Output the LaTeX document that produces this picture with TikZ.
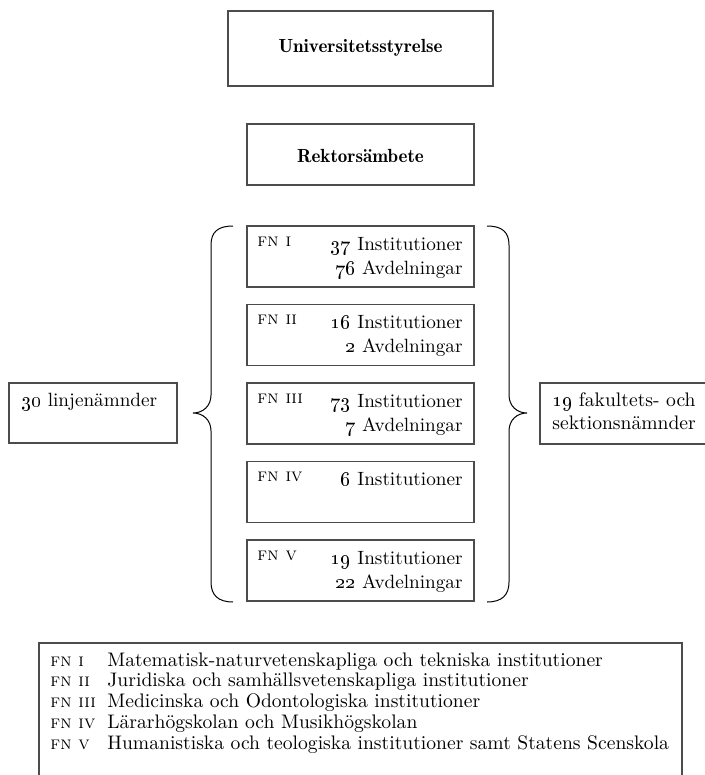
\documentclass[tikz,border=0pt]{standalone}
\definecolor{boxgray}{gray}{0.3}
\tikzset{
  box/.style={draw=boxgray, line width=0.6pt, inner sep=0pt, rectangle},
  fnbox/.style={box, minimum width=113.5pt, minimum height=30.5pt},
  txt/.style={inner sep=0pt, font=\fontsize{9.6}{12}\selectfont},
  legtxt/.style={inner sep=0pt, font=\fontsize{9.8}{12}\selectfont},
  bold/.style={inner sep=0pt, font=\fontsize{9.5}{12}\fontseries{b}\selectfont},
  fnl/.style={inner sep=0pt, font=\fontsize{9.2}{10}\selectfont\scshape},
  bracepath/.style={draw=black, line width=0.5pt}
}
\newcommand{\os}[1]{\oldstylenums{#1}}
\begin{document}
\begin{tikzpicture}[x=0.5pt,y=-0.5pt]
\useasboundingbox (0,0) rectangle (705,775);
\clip (0,0) rectangle (705,775);

% top boxes
\node[box, minimum width=132.5pt, minimum height=37.5pt] (uni) at (360.5,48.5) {};
\node[bold, anchor=base] (unit) at (360.5,53) {Universitetsstyrelse};
\node[box, minimum width=113.5pt, minimum height=30.5pt] (rek) at (360.5,154.5) {};
\node[bold, anchor=base] (rekt) at (360.5,163) {Rektorsämbete};

% FN boxes
\node[fnbox] (fn1) at (360.5,256.5) {};
\node[fnl, anchor=base west] (fn1l) at (257,246) {fn i};
\node[txt, anchor=base east] (fn1a) at (463,250) {\os{37} Institutioner};
\node[txt, anchor=base east] (fn1b) at (463,274) {\os{76} Avdelningar};

\node[fnbox] (fn2) at (360.5,335) {};
\node[fnl, anchor=base west] (fn2l) at (257,324.5) {fn ii};
\node[txt, anchor=base east] (fn2a) at (463,328.5) {\os{16} Institutioner};
\node[txt, anchor=base east] (fn2b) at (463,352.5) {\os{2} Avdelningar};

\node[fnbox] (fn3) at (360.5,413.5) {};
\node[fnl, anchor=base west] (fn3l) at (257,403) {fn iii};
\node[txt, anchor=base east] (fn3a) at (463,407) {\os{73} Institutioner};
\node[txt, anchor=base east] (fn3b) at (463,431) {\os{7} Avdelningar};

\node[fnbox] (fn4) at (360.5,492) {};
\node[fnl, anchor=base west] (fn4l) at (257,481.5) {fn iv};
\node[txt, anchor=base east] (fn4a) at (463,485.5) {\os{6} Institutioner};

\node[fnbox] (fn5) at (360.5,570.5) {};
\node[fnl, anchor=base west] (fn5l) at (257,560) {fn v};
\node[txt, anchor=base east] (fn5a) at (463,564) {\os{19} Institutioner};
\node[txt, anchor=base east] (fn5b) at (463,588) {\os{22} Avdelningar};

% side boxes
\node[box, minimum width=84pt, minimum height=30pt] (left) at (93,413) {};
\node[txt, anchor=base west] (leftt) at (21,406) {\os{30} linjenämnder};
\node[box, minimum width=90pt, minimum height=30.5pt] (right) at (630,413.5) {};
\node[legtxt, anchor=base west] (righta) at (552,406) {\os{19} fakultets- och};
\node[legtxt, anchor=base west] (rightb) at (552,429) {sektionsnämnder};

% braces
\path[bracepath] (233,226) .. controls (218,226) and (211,232) .. (211,245)
  -- (211,395) .. controls (211,406) and (203,413) .. (193,413)
  .. controls (203,413) and (211,420) .. (211,431)
  -- (211,582) .. controls (211,595) and (218,602) .. (233,602);
\path[bracepath] (487,226) .. controls (502,226) and (509,232) .. (509,245)
  -- (509,395) .. controls (509,406) and (517,413) .. (527,413)
  .. controls (517,413) and (509,420) .. (509,431)
  -- (509,582) .. controls (509,595) and (502,602) .. (487,602);

% legend box
\node[box, minimum width=321.5pt, minimum height=78.5pt] (legend) at (360.5,721.5) {};
\node[fnl, anchor=base west] (l1a) at (50,666) {fn i};
\node[legtxt, anchor=base west] (l1b) at (107,666) {Matematisk-naturvetenskapliga och tekniska institutioner};
\node[fnl, anchor=base west] (l2a) at (50,686.75) {fn ii};
\node[legtxt, anchor=base west] (l2b) at (107,686.75) {Juridiska och samhällsvetenskapliga institutioner};
\node[fnl, anchor=base west] (l3a) at (50,707.5) {fn iii};
\node[legtxt, anchor=base west] (l3b) at (107,707.5) {Medicinska och Odontologiska institutioner};
\node[fnl, anchor=base west] (l4a) at (50,728.25) {fn iv};
\node[legtxt, anchor=base west] (l4b) at (107,728.25) {Lärarhögskolan och Musikhögskolan};
\node[fnl, anchor=base west] (l5a) at (50,749) {fn v};
\node[legtxt, anchor=base west] (l5b) at (107,749) {Humanistiska och teologiska institutioner samt Statens Scenskola};
\end{tikzpicture}
\end{document}
